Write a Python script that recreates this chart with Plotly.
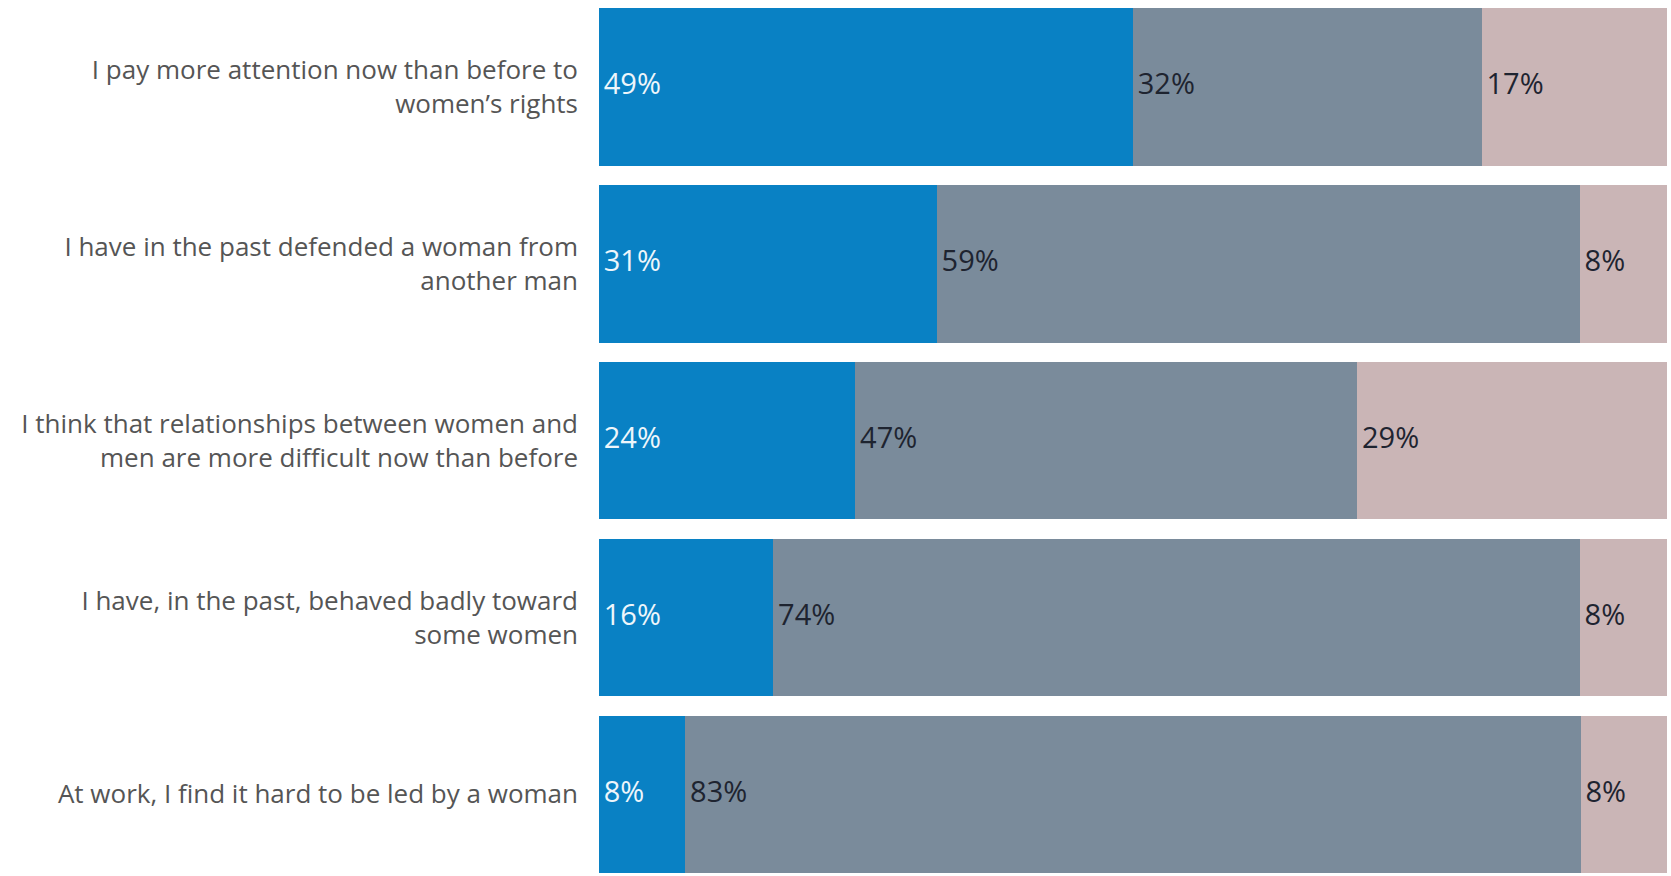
import plotly.graph_objects as go

categories = [
    "I pay more attention now than before to<br>women’s rights",
    "I have in the past defended a woman from<br>another man",
    "I think that relationships between women and<br>men are more difficult now than before",
    "I have, in the past, behaved badly toward<br>some women",
    "At work, I find it hard to be led by a woman",
]
series_a = [49, 31, 24, 16, 8]
series_b = [32, 59, 47, 74, 83]
series_c = [17, 8, 29, 8, 8]

colors = ["#0981C4", "#7A8B9B", "#CAB5B6"]
text_colors = ["#EEF6FB", "#1E2430", "#1E2430"]

all_series = [series_a, series_b, series_c]
totals = [sum(v) for v in zip(*all_series)]

fig = go.Figure()
for vals, col in zip(all_series, colors):
    fig.add_trace(go.Bar(
        y=categories, x=vals, orientation="h",
        marker=dict(color=col, line=dict(width=0)),
        hoverinfo="x+y",
    ))

# value labels at the start of each (normalised) segment
cum = [0] * len(categories)
for vals, tcol in zip(all_series, text_colors):
    starts = [c / t * 100 for c, t in zip(cum, totals)]
    fig.add_trace(go.Scatter(
        x=starts, y=categories, mode="markers+text",
        marker=dict(size=6, color="rgba(0,0,0,0)"),
        text=[f"{v}%" for v in vals], textposition="middle right",
        textfont=dict(family="Open Sans", size=29, color=tcol),
        cliponaxis=False, hoverinfo="skip",
    ))
    cum = [c + v for c, v in zip(cum, vals)]

fig.update_layout(
    barmode="stack", barnorm="percent", bargap=0.11,
    width=1671, height=876,
    margin=dict(l=599, r=4, t=0, b=0, autoexpand=False),
    paper_bgcolor="white", plot_bgcolor="white",
    showlegend=False,
    font=dict(family="Open Sans", color="#555555"),
    xaxis=dict(visible=False, range=[0, 100], fixedrange=True),
    yaxis=dict(range=[4.462, -0.493], automargin=False, showgrid=False,
               showline=False, zeroline=False,
               ticks="", ticklabelstandoff=20,
               tickfont=dict(family="Open Sans", size=26, color="#555555")),
)

fig.write_html("out.html", config={"displayModeBar": False},
               post_script="document.body.style.margin='0';")
